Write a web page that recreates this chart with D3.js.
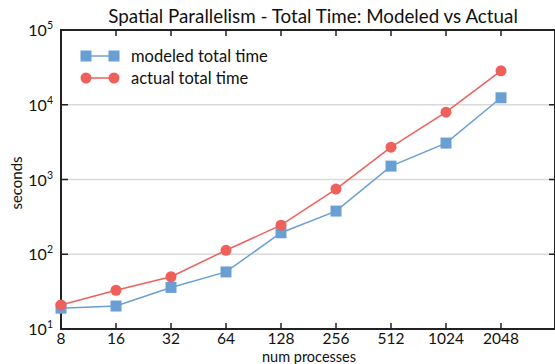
<!DOCTYPE html>
<html><head><meta charset="utf-8">
<script src="https://cdn.jsdelivr.net/npm/d3@7"></script>
<style>body{margin:0;background:#fff;} text{font-family:Lato,"Open Sans",sans-serif;}</style>
</head><body><svg id="c" width="555" height="364"></svg>
<script>
const procs = [8,16,32,64,128,256,512,1024,2048];
const modeled = [19,20.3,36,58,194,378,1510,3070,12400];
const actual = [21,33,50,113,245,745,2710,7950,28400];
const yTicks = [10,100,1000,10000,100000];
const seriesNames = ["modeled total time","actual total time"];
const colors = ["#6a9fd4","#ee605a"];

const svg = d3.select("#c");
const L=61,R=556,T=30,B=329;
const x = d3.scaleLog().base(2).domain([8,4096]).range([L,R]);
const y = d3.scaleLog().domain([10,100000]).range([B,T]);

// grid
svg.append("g").selectAll("line").data(yTicks.slice(1,-1)).join("line")
 .attr("x1",L).attr("x2",R).attr("y1",d=>y(d)).attr("y2",d=>y(d))
 .attr("stroke","#d9d9d9").attr("stroke-width",1.5);

// axes frame
const axc="#222";
svg.append("line").attr("x1",L).attr("x2",R).attr("y1",B).attr("y2",B).attr("stroke",axc).attr("stroke-width",2);
svg.append("line").attr("x1",L).attr("x2",R).attr("y1",T).attr("y2",T).attr("stroke",axc).attr("stroke-width",2);
svg.append("line").attr("x1",L).attr("x2",L).attr("y1",T-1).attr("y2",B+1).attr("stroke",axc).attr("stroke-width",2);
svg.append("line").attr("x1",R-1).attr("x2",R-1).attr("y1",T-1).attr("y2",B+1).attr("stroke",axc).attr("stroke-width",2);

// x ticks
const xt = svg.append("g");
procs.forEach(p=>{
  xt.append("line").attr("x1",x(p)).attr("x2",x(p)).attr("y1",B).attr("y2",B-6).attr("stroke",axc).attr("stroke-width",1.5);
  xt.append("line").attr("x1",x(p)).attr("x2",x(p)).attr("y1",T).attr("y2",T+6).attr("stroke",axc).attr("stroke-width",1.5);
  xt.append("text").attr("x",x(p)).attr("y",B+15).attr("text-anchor","middle").attr("font-size",15.5).attr("fill","#111").text(p);
});
// y ticks
const yt = svg.append("g");
yTicks.forEach(v=>{
  yt.append("line").attr("x1",L).attr("x2",L+7).attr("y1",y(v)).attr("y2",y(v)).attr("stroke",axc).attr("stroke-width",1.5);
  yt.append("line").attr("x1",R).attr("x2",R-7).attr("y1",y(v)).attr("y2",y(v)).attr("stroke",axc).attr("stroke-width",1.5);
  const t = yt.append("text").attr("x",53).attr("y",y(v)+6).attr("text-anchor","end").attr("font-size",16).attr("fill","#111");
  t.append("tspan").text("10");
  t.append("tspan").attr("dy",-7).attr("font-size",10.5).text(Math.round(Math.log10(v)));
});

// lines
const data=[modeled,actual];
const line = d3.line().x((d,i)=>x(procs[i])).y(d=>y(d));
data.forEach((s,k)=>{
  svg.append("path").datum(s).attr("d",line).attr("fill","none").attr("stroke",colors[k]).attr("stroke-width",1.5);
});
svg.append("g").selectAll("rect").data(modeled).join("rect")
 .attr("x",(d,i)=>x(procs[i])-5.5).attr("y",d=>y(d)-5.5).attr("width",11).attr("height",11).attr("fill",colors[0]);
svg.append("g").selectAll("circle").data(actual).join("circle")
 .attr("cx",(d,i)=>x(procs[i])).attr("cy",d=>y(d)).attr("r",5.5).attr("fill",colors[1]);

// legend
const lg = svg.append("g");
[0,1].forEach(k=>{
  const yy = 56 + k*22;
  lg.append("line").attr("x1",86).attr("x2",114).attr("y1",yy).attr("y2",yy).attr("stroke",colors[k]).attr("stroke-width",1.5);
  [86,114].forEach(xx=>{
    if(k===0) lg.append("rect").attr("x",xx-5.5).attr("y",yy-5.5).attr("width",11).attr("height",11).attr("fill",colors[0]);
    else lg.append("circle").attr("cx",xx).attr("cy",yy).attr("r",5.5).attr("fill",colors[1]);
  });
  lg.append("text").attr("x",131).attr("y",yy+5.5).attr("font-size",16.5).attr("fill","#111").text(seriesNames[k]);
});

// title and labels
svg.append("text").attr("x",313).attr("y",23).attr("text-anchor","middle").attr("font-size",18.8).attr("fill","#111")
 .text("Spatial Parallelism - Total Time: Modeled vs Actual");
svg.append("text").attr("x",309).attr("y",362).attr("text-anchor","middle").attr("font-size",14.5).attr("fill","#111").text("num processes");
svg.append("text").attr("transform","translate(22,183) rotate(-90)").attr("text-anchor","middle").attr("font-size",15).attr("fill","#111").text("seconds");
</script></body></html>
